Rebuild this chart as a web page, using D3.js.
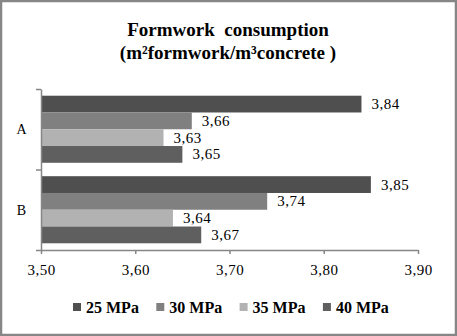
<!DOCTYPE html>
<html>
<head>
<meta charset="utf-8">
<script src="https://cdn.jsdelivr.net/npm/d3@7"></script>
<style>
    body { margin: 0; background: #fff; }
    svg, svg text { font-family: "Times New Roman", "Liberation Serif", Times, "DejaVu Serif", serif; }
</style>
</head>
<body>
<div id="chart"></div>
<script>

// data
const categories = ["A", "B"];
const series = ["25 MPa", "30 MPa", "35 MPa", "40 MPa"];
const valuesA = [3.84, 3.66, 3.63, 3.65];
const valuesB = [3.85, 3.74, 3.64, 3.67];
const xTicks = [3.50, 3.60, 3.70, 3.80, 3.90];
const colors = ["#4f4f4f", "#808080", "#b2b2b2", "#5f5f5f"];

const rows = categories.map((c, i) => ({
    cat: c,
    vals: [valuesA, valuesB][i].map((v, j) => ({series: series[j], value: v, color: colors[j]}))
}));

const W = 457, H = 336;
const margin = {top: 89, right: 39, bottom: 86, left: 41};
const width = W - margin.left - margin.right;
const height = H - margin.top - margin.bottom;
const axisColor = "#868686";
const fmt = d => d.toFixed(2).replace(".", ",");

const svg = d3.select("#chart").append("svg")
    .attr("width", W)
    .attr("height", H);

// outer frame
svg.append("rect")
    .attr("x", 1).attr("y", 1)
    .attr("width", W - 2).attr("height", H - 2)
    .attr("fill", "#fff")
    .attr("stroke", axisColor)
    .attr("stroke-width", 2.5);

// title
const title = svg.append("text")
    .attr("text-anchor", "middle")
    .attr("font-weight", "bold")
    .attr("font-size", "19px")
    .attr("fill", "#000");
title.append("tspan").attr("x", 228).attr("y", 36).attr("xml:space", "preserve").text("Formwork  consumption");
title.append("tspan").attr("x", 228).attr("y", 59).text("(m²formwork/m³concrete )");

const g = svg.append("g")
    .attr("transform", `translate(${margin.left}, ${margin.top})`);

// scales
const x = d3.scaleLinear()
    .domain([3.5, 3.9])
    .range([0, width]);

const y0 = d3.scaleBand()
    .domain(categories)
    .range([0, height])
    .padding(0);

const y1 = d3.scaleBand()
    .domain(series)
    .range([0, y0.bandwidth()])
    .paddingInner(0)
    .paddingOuter(0.4);

// bars
const groups = g.selectAll(".cat")
    .data(rows)
    .enter().append("g")
    .attr("class", "cat")
    .attr("transform", d => `translate(0, ${y0(d.cat)})`);

groups.selectAll("rect")
    .data(d => d.vals)
    .enter().append("rect")
    .attr("x", 0)
    .attr("y", d => y1(d.series))
    .attr("width", d => x(d.value))
    .attr("height", y1.bandwidth())
    .attr("fill", d => d.color);

// value labels
groups.selectAll(".lbl")
    .data(d => d.vals)
    .enter().append("text")
    .attr("class", "lbl")
    .attr("x", d => x(d.value) + 10)
    .attr("y", d => y1(d.series) + y1.bandwidth() / 2 + 5)
    .attr("font-size", "15px")
    .attr("letter-spacing", "0.5px")
    .attr("fill", "#000")
    .text(d => fmt(d.value));

// x axis
const xAxis = d3.axisBottom(x)
    .tickValues(xTicks)
    .tickSize(4)
    .tickSizeOuter(0)
    .tickFormat(fmt);

const gx = g.append("g")
    .attr("transform", `translate(0, ${height})`)
    .call(xAxis)
    .attr("font-family", null);
gx.select(".domain").attr("stroke", axisColor).attr("stroke-width", 1.5);
gx.selectAll(".tick line").attr("stroke", axisColor).attr("stroke-width", 1.5);
gx.selectAll(".tick text")
    .attr("y", 25).attr("dy", null)
    .attr("font-size", "15px")
    .attr("letter-spacing", "0.5px")
    .attr("fill", "#000");

// y axis: ticks at category boundaries
const yEdge = d3.scaleLinear()
    .domain([0, categories.length])
    .range([0, height]);

const gy = g.append("g")
    .call(d3.axisLeft(yEdge).ticks(categories.length).tickSize(5).tickSizeOuter(0).tickFormat(""));
gy.select(".domain").attr("stroke", axisColor).attr("stroke-width", 1.5);
gy.selectAll(".tick line").attr("stroke", axisColor).attr("stroke-width", 1.5);

g.selectAll(".catlbl")
    .data(categories)
    .enter().append("text")
    .attr("class", "catlbl")
    .attr("x", -19.5)
    .attr("y", d => y0(d) + y0.bandwidth() / 2 + 5)
    .attr("text-anchor", "middle")
    .attr("font-size", "14px")
    .attr("fill", "#000")
    .text(d => d);

// legend
const legend = svg.append("g")
    .attr("transform", "translate(73, 307)");

const items = legend.selectAll(".item")
    .data(series)
    .enter().append("g")
    .attr("class", "item")
    .attr("transform", (d, i) => `translate(${i * 83.3}, 0)`);

items.append("rect")
    .attr("x", 0).attr("y", -4)
    .attr("width", 8).attr("height", 8)
    .attr("fill", (d, i) => colors[i]);

items.append("text")
    .attr("x", 13)
    .attr("y", 5.5)
    .attr("font-size", "16px")
    .attr("font-weight", "bold")
    .attr("fill", "#000")
    .text(d => d);

</script>
</body>
</html>
